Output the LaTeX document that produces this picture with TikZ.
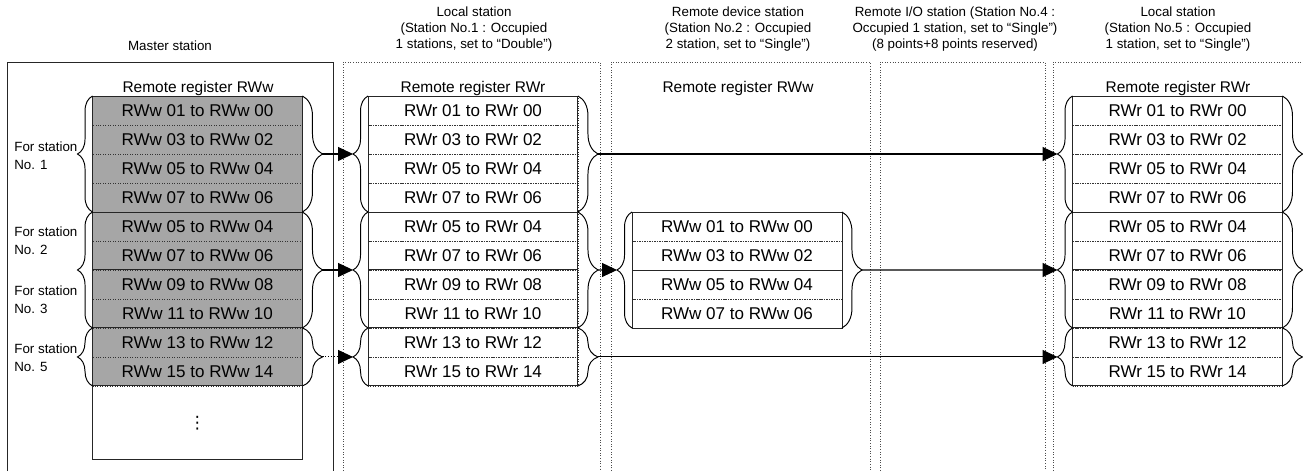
\documentclass[tikz,border=0pt]{standalone}
\usepackage{fontspec}
\setmainfont{Liberation Sans}
\newfontfamily\symfont{DejaVu Sans}
\usetikzlibrary{arrows.meta,positioning,decorations.pathreplacing}

\begin{document}
\begin{tikzpicture}[
  x=0.02cm,y=-0.02cm,
  cell/.style={draw=black!80,densely dotted,minimum width=4.2cm,minimum height=0.58cm,inner sep=0pt,outer sep=0pt,font=\fontsize{9.7}{11}\selectfont},
  gcell/.style={cell,fill=black!35},
  head/.style={align=center,inner sep=0pt,font=\fontsize{7.6}{9.1}\selectfont},
  reg/.style={inner sep=0pt,font=\fontsize{8.8}{10}\selectfont},
  side/.style={align=left,anchor=west,inner sep=0pt,font=\fontsize{7.6}{10.2}\selectfont},
  box/.style={draw=black!85,line width=0.55pt},
  frame/.style={draw=black!70,densely dotted,line width=0.5pt},
  lbr/.style={decorate,decoration={brace,amplitude=0.3cm},line width=0.55pt},
  rbr/.style={decorate,decoration={brace,amplitude=0.4cm},line width=0.55pt},
  arr/.style={-{Triangle[length=0.3cm,width=0.28cm]},line width=0.6pt}
]
\useasboundingbox (0,0) rectangle (1303,471);

% station frames
\draw[box,line width=0.45pt] (7,471) |- (333,62) -- (333,471);
\draw[frame] (343,471) |- (600,62) -- (600,471);
\draw[frame] (611,471) |- (870,62) -- (870,471);
\draw[frame] (880,471) |- (1045,62) -- (1045,471);
\draw[frame] (1053,471) |- (1303,62);

\node[head] (hm) at (170,46) {Master station};
\node[head] (h1) at (474,29) {Local station\\(Station No.1 : Occupied\\1 stations, set to “Double”)};
\node[head] (h2) at (738,29) {Remote device station\\(Station No.2 : Occupied\\2 station, set to “Single”)};
\node[head] (h4) at (955,29) {Remote I/O station (Station No.4 :\\Occupied 1 station, set to “Single”)\\(8 points+8 points reserved)};
\node[head] (h5) at (1178,29) {Local station\\(Station No.5 : Occupied\\1 station, set to “Single”)};

% master station
\node[reg] (rm) at (198,88) {Remote register RWw};
\node[gcell] (m1) at (197.5,110.5) {RWw 01 to RWw 00};
\node[gcell,below=0pt of m1] (m2) {RWw 03 to RWw 02};
\node[gcell,below=0pt of m2] (m3) {RWw 05 to RWw 04};
\node[gcell,below=0pt of m3] (m4) {RWw 07 to RWw 06};
\node[gcell,below=0pt of m4] (m5) {RWw 05 to RWw 04};
\node[gcell,below=0pt of m5] (m6) {RWw 07 to RWw 06};
\node[gcell,below=0pt of m6] (m7) {RWw 09 to RWw 08};
\node[gcell,below=0pt of m7] (m8) {RWw 11 to RWw 10};
\node[gcell,below=0pt of m8] (m9) {RWw 13 to RWw 12};
\node[gcell,below=0pt of m9] (m10) {RWw 15 to RWw 14};
\node[cell,draw=none,minimum height=1.48cm,below=0pt of m10] (m11) {\symfont ⋮};
\draw[box] (m1.north west) rectangle (m11.south east);
\draw[box] (m4.south west) -- (m4.south east) (m6.south west) -- (m6.south east)
  (m8.south west) -- (m8.south east) (m10.south west) -- (m10.south east);
\draw[lbr] (m4.south west) -- (m1.north west);
\draw[lbr] (m8.south west) -- (m5.north west);
\draw[lbr] (m10.south west) -- (m9.north west);
\draw[rbr] (m1.north east) -- node[coordinate,right=0.4cm] (mr1) {} (m4.south east);
\draw[rbr] (m5.north east) -- node[coordinate,right=0.4cm] (mr2) {} (m8.south east);
\draw[rbr] (m9.north east) -- node[coordinate,right=0.4cm] (mr3) {} (m10.south east);
\node[side] (s1) at (14,156) {For station\\No. 1};
\node[side] (s2) at (14,241) {For station\\No. 2};
\node[side] (s3) at (14,300) {For station\\No. 3};
\node[side] (s5) at (14,358) {For station\\No. 5};

% local station 1
\node[reg] (ra) at (473,88) {Remote register RWr};
\node[cell] (a1) at (473,110.5) {RWr 01 to RWr 00};
\node[cell,below=0pt of a1] (a2) {RWr 03 to RWr 02};
\node[cell,below=0pt of a2] (a3) {RWr 05 to RWr 04};
\node[cell,below=0pt of a3] (a4) {RWr 07 to RWr 06};
\node[cell,below=0pt of a4] (a5) {RWr 05 to RWr 04};
\node[cell,below=0pt of a5] (a6) {RWr 07 to RWr 06};
\node[cell,below=0pt of a6] (a7) {RWr 09 to RWr 08};
\node[cell,below=0pt of a7] (a8) {RWr 11 to RWr 10};
\node[cell,below=0pt of a8] (a9) {RWr 13 to RWr 12};
\node[cell,below=0pt of a9] (a10) {RWr 15 to RWr 14};
\draw[box] (a1.north west) rectangle (a10.south east);
\draw[box] (a4.south west) -- (a4.south east) (a6.south west) -- (a6.south east)
  (a8.south west) -- (a8.south east);
\draw[lbr] (a4.south west) -- node[coordinate,left=0.3cm] (al1) {} (a1.north west);
\draw[lbr] (a8.south west) -- node[coordinate,left=0.3cm] (al2) {} (a5.north west);
\draw[lbr] (a10.south west) -- node[coordinate,left=0.3cm] (al3) {} (a9.north west);
\draw[rbr] (a1.north east) -- node[coordinate,right=0.4cm] (ar1) {} (a4.south east);
\draw[rbr] (a5.north east) -- node[coordinate,right=0.4cm] (ar2) {} (a8.south east);
\draw[rbr] (a9.north east) -- node[coordinate,right=0.4cm] (ar3) {} (a10.south east);

% remote device station
\node[reg] (rd) at (738,88) {Remote register RWw};
\node[cell] (d1) at (737,226.5) {RWw 01 to RWw 00};
\node[cell,below=0pt of d1] (d2) {RWw 03 to RWw 02};
\node[cell,below=0pt of d2] (d3) {RWw 05 to RWw 04};
\node[cell,below=0pt of d3] (d4) {RWw 07 to RWw 06};
\draw[box] (d1.north west) rectangle (d4.south east);
\draw[box] (d2.south west) -- (d2.south east);
\draw[lbr] (d4.south west) -- node[coordinate,left=0.3cm] (dl) {} (d1.north west);
\draw[rbr] (d1.north east) -- node[coordinate,right=0.4cm] (dr) {} (d4.south east);

% local station 5
\node[reg] (re) at (1178,88) {Remote register RWr};
\node[cell] (e1) at (1177.5,110.5) {RWr 01 to RWr 00};
\node[cell,below=0pt of e1] (e2) {RWr 03 to RWr 02};
\node[cell,below=0pt of e2] (e3) {RWr 05 to RWr 04};
\node[cell,below=0pt of e3] (e4) {RWr 07 to RWr 06};
\node[cell,below=0pt of e4] (e5) {RWr 05 to RWr 04};
\node[cell,below=0pt of e5] (e6) {RWr 07 to RWr 06};
\node[cell,below=0pt of e6] (e7) {RWr 09 to RWr 08};
\node[cell,below=0pt of e7] (e8) {RWr 11 to RWr 10};
\node[cell,below=0pt of e8] (e9) {RWr 13 to RWr 12};
\node[cell,below=0pt of e9] (e10) {RWr 15 to RWr 14};
\draw[box] (e1.north west) rectangle (e10.south east);
\draw[box] (e4.south west) -- (e4.south east) (e6.south west) -- (e6.south east)
  (e8.south west) -- (e8.south east);
\draw[lbr] (e4.south west) -- node[coordinate,left=0.3cm] (el1) {} (e1.north west);
\draw[lbr] (e8.south west) -- node[coordinate,left=0.3cm] (el2) {} (e5.north west);
\draw[lbr] (e10.south west) -- node[coordinate,left=0.3cm] (el3) {} (e9.north west);
\draw[rbr] (e1.north east) -- (e4.south east);
\draw[rbr] (e5.north east) -- (e8.south east);
\draw[rbr] (e9.north east) -- (e10.south east);

% transfers
\draw[arr] (mr1) -- (al1);
\draw[arr] (mr2) -- (al2);
\draw[arr,densely dotted] (mr3) -- (al3);
\draw[arr] (ar1) -- (el1);
\draw[arr] (ar2) -- (dl);
\draw[arr] (ar3) -- (el3);
\draw[arr] (dr) -- (el2);
\end{tikzpicture}
\end{document}
